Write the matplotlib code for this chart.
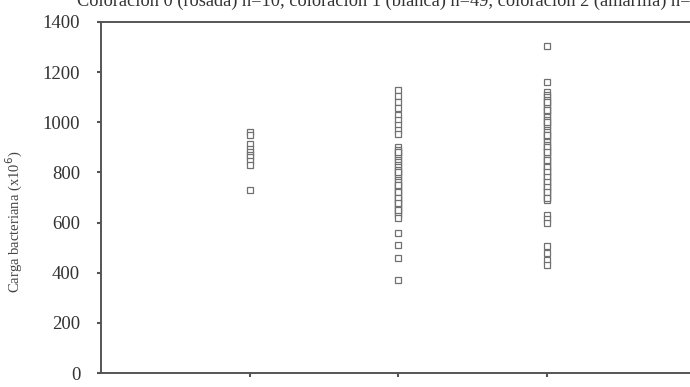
import matplotlib
matplotlib.use("Agg")
import matplotlib.pyplot as plt

title = "Coloración 0 (rosada) n=10, coloración 1 (blanca) n=49, coloración 2 (amarilla) n=67"
ylabel = "Carga bacteriana (x10$^{6}$)"
categories = [0, 1, 2]
yticks = [0, 200, 400, 600, 800, 1000, 1200, 1400]

g0 = [960, 950, 915, 895, 880, 870, 860, 845, 830, 730]
g1 = [1130, 1105, 1080, 1055, 1030, 1010, 990, 970, 955,
      900, 890, 880, 870, 860, 850, 840, 830, 820, 810, 800, 790, 780,
      770, 760, 750, 740, 730, 720, 710, 700, 690, 680, 670, 660, 650,
      640, 630, 620, 560, 512, 460, 372,
      800, 750, 720, 700, 680, 650, 880]
g2 = [1305, 1160,
      1120, 1110, 1100, 1090, 1080, 1070, 1060, 1050, 1040, 1030, 1020,
      1010, 1000, 990, 980, 970, 960, 950, 940, 930, 920, 910, 900, 890,
      880, 870, 860, 850, 840, 830, 820, 810, 800, 790, 780, 770, 760,
      750, 740, 730, 720, 710, 700, 690,
      630, 615, 600, 505, 480, 450, 430,
      1000, 950, 900, 880, 850, 820, 800, 780, 760, 740, 720, 700, 1080, 1050]
groups = [g0, g1, g2]

plt.rcParams['font.family'] = ['Liberation Serif', 'DejaVu Serif']

W, H = 690, 387
fig = plt.figure(figsize=(W / 100, H / 100), dpi=100)
left, right, bottom, top = 101, 695, 387 - 373, 387 - 22
ax = fig.add_axes([left / W, bottom / H, (right - left) / W, (top - bottom) / H])

for c, vals in zip(categories, groups):
    ax.plot([c] * len(vals), vals, linestyle='none', marker='s', ms=4.8,
            mfc='white', mec='#707070', mew=0.9)

ax.set_xlim(-1, 3)
ax.set_ylim(0, 1400)
ax.set_yticks(yticks)
ax.set_xticks(categories)
ax.set_xticklabels([str(c) for c in categories])
for s in ['left', 'bottom', 'top']:
    ax.spines[s].set_color('#555555')
    ax.spines[s].set_linewidth(1.4)
ax.spines['right'].set_visible(False)
ax.tick_params(axis='y', length=3, width=1.5, color='#555555', labelsize=13.5,
               labelcolor='#333333', pad=12)
ax.tick_params(axis='x', length=3, width=1.5, color='#555555', labelsize=13,
               labelcolor='#333333', pad=8)
ax.set_ylabel(ylabel, fontsize=10.5, color='#444444')
ax.yaxis.set_label_coords((25 - left) / (right - left), (373 - 222) / (373 - 22))

fig.text(77 / W, 1 - 6 / H, title, fontsize=13.2, color='#333333', va='baseline', ha='left')

fig.savefig("out.png", dpi=100)
